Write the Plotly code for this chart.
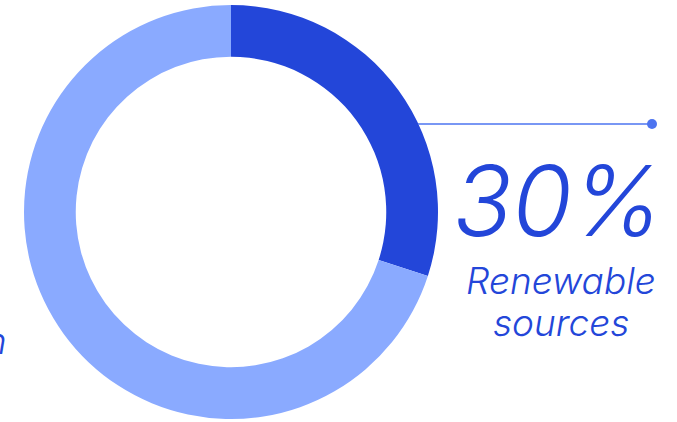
import plotly.graph_objects as go

# Share of generation by source
labels = ["Renewable sources", "Fossil generation"]
values = [30, 70]
colors = ["#2346D9", "#8AAAFF"]

W, H = 677, 422
TEXT_BLUE = "#2346D9"
LEADER_BLUE = "#4D74F0"


def px_x(x):
    return x / W


def px_y(y):
    return 1 - y / H


fig = go.Figure(
    go.Pie(
        labels=labels,
        values=values,
        marker=dict(colors=colors, line=dict(width=0)),
        hole=0.75,
        sort=False,
        direction="clockwise",
        rotation=0,
        textinfo="none",
        hoverinfo="skip",
        showlegend=False,
        domain=dict(x=[px_x(24), px_x(438)], y=[px_y(419), px_y(5)]),
    )
)

share = values[0] / sum(values) * 100
font_main = dict(family="Inter", color=TEXT_BLUE, style="italic", weight=300)


def label(text, x, y, size, xanchor="center"):
    return dict(
        text=text,
        x=px_x(x), y=px_y(y),
        xref="paper", yref="paper",
        xanchor=xanchor, yanchor="middle",
        showarrow=False,
        font=dict(font_main, size=size),
    )


first_word, second_word = labels[0].split(" ")
annotations = [
    label(f"{share:.0f}%", 558, 200, 97),
    label(first_word, 561, 280, 37),
    label(second_word, 561, 322, 37),
    label(labels[1], 9, 340, 37, xanchor="right"),
]

shapes = [
    dict(
        type="line", xref="paper", yref="paper",
        x0=px_x(418), x1=px_x(652), y0=px_y(124), y1=px_y(124),
        line=dict(color=LEADER_BLUE, width=1.5),
    ),
    dict(
        type="circle", xref="paper", yref="paper",
        x0=px_x(647), x1=px_x(657), y0=px_y(129), y1=px_y(119),
        fillcolor=LEADER_BLUE, line=dict(width=0),
    ),
]

fig.update_layout(
    width=W, height=H,
    margin=dict(l=0, r=0, t=0, b=0),
    paper_bgcolor="white",
    plot_bgcolor="white",
    annotations=annotations,
    shapes=shapes,
)

fig.write_html("out.html")
